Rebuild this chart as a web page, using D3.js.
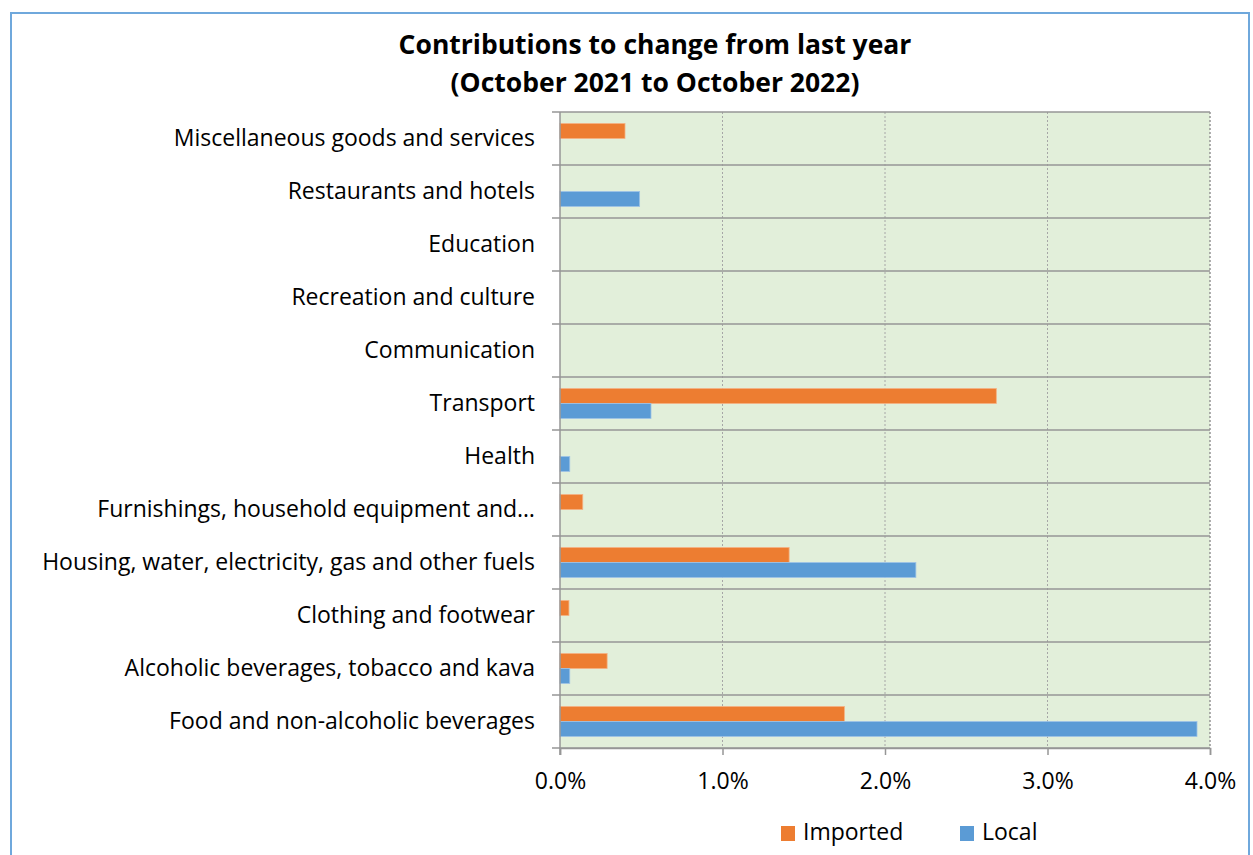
<!DOCTYPE html>
<html>
<head>
<meta charset="utf-8">
<script src="https://cdn.jsdelivr.net/npm/d3@7"></script>
<style>
  body { margin: 0; background: #fff; }
  svg { display: block; font-family: "Open Sans", Lato, sans-serif; }
</style>
</head>
<body>
<div id="chart"></div>
<script>
// categories from bottom to top, as in the picture
var categories = [
  "Food and non-alcoholic beverages",
  "Alcoholic beverages, tobacco and kava",
  "Clothing and footwear",
  "Housing, water, electricity, gas and other fuels",
  "Furnishings, household equipment and\u2026",
  "Health",
  "Transport",
  "Communication",
  "Recreation and culture",
  "Education",
  "Restaurants and hotels",
  "Miscellaneous goods and services"
];
var imported = [1.75, 0.29, 0.055, 1.41, 0.14, 0, 2.685, 0, 0, 0, 0, 0.40];
var local    = [3.92, 0.06, 0, 2.19, 0, 0.06, 0.56, 0, 0, 0, 0.49, 0];
var xTicks = [0, 1, 2, 3, 4];
var seriesNames = ["Imported", "Local"];
var colors = ["#ED7D31", "#5B9BD5"];

var W = 1253, H = 855;
var plot = { left: 560, top: 112, right: 1210, bottom: 748 };

var svg = d3.select("#chart").append("svg")
  .attr("width", W).attr("height", H);

// outer frame
svg.append("rect")
  .attr("x", 11).attr("y", 13).attr("width", 1238).attr("height", 860)
  .attr("fill", "none").attr("stroke", "#6FA8DC").attr("stroke-width", 2);

svg.append("rect")
  .attr("x", plot.left).attr("y", plot.top)
  .attr("width", plot.right - plot.left).attr("height", plot.bottom - plot.top)
  .attr("fill", "#E2EFDA");

var x = d3.scaleLinear().domain([0, 4]).range([plot.left, plot.right]);

// reversed so the first category sits at the bottom
var y = d3.scaleBand().domain(categories.slice().reverse())
  .range([plot.top, plot.bottom]).paddingInner(0).paddingOuter(0);

var inner = d3.scaleBand().domain(seriesNames)
  .range([0, y.bandwidth()]).paddingInner(0).paddingOuter(0.77);

// vertical dotted gridlines
svg.append("g").selectAll("line")
  .data(xTicks.slice(1))
  .enter().append("line")
    .attr("x1", function(d){ return x(d); })
    .attr("x2", function(d){ return x(d); })
    .attr("y1", plot.top).attr("y2", plot.bottom)
    .attr("stroke", "#A6A6A6").attr("stroke-width", 1)
    .attr("stroke-dasharray", "2,2");

// horizontal band boundaries + category ticks
var bounds = d3.range(categories.length + 1).map(function(i){
  return plot.top + i * y.bandwidth();
});
svg.append("g").selectAll("line")
  .data(bounds)
  .enter().append("line")
    .attr("x1", plot.left - 8).attr("x2", plot.right)
    .attr("y1", function(d){ return d; })
    .attr("y2", function(d){ return d; })
    .attr("stroke", "#969696").attr("stroke-width", 1.5);

// bars
var rows = categories.map(function(c, i){
  return { name: c, values: [imported[i], local[i]] };
});

var groups = svg.append("g").selectAll("g")
  .data(rows)
  .enter().append("g")
    .attr("transform", function(d){ return "translate(0," + y(d.name) + ")"; });

groups.selectAll("rect")
  .data(function(d){ return d.values.map(function(v, j){ return { s: seriesNames[j], v: v, j: j }; }); })
  .enter().append("rect")
    .filter(function(d){ return d.v > 0; })
    .attr("x", x(0))
    .attr("y", function(d){ return inner(d.s); })
    .attr("width", function(d){ return x(d.v) - x(0); })
    .attr("height", inner.bandwidth())
    .attr("fill", function(d){ return colors[d.j]; })
    .attr("stroke", function(d){ return d.j === 0 ? "#F4B183" : "#9DC3E6"; })
    .attr("stroke-width", 0.8);

// vertical axis line
svg.append("line")
  .attr("x1", plot.left).attr("x2", plot.left)
  .attr("y1", plot.top).attr("y2", plot.bottom + 7)
  .attr("stroke", "#969696").attr("stroke-width", 1.5);

// right dotted border
svg.append("line")
  .attr("x1", plot.right).attr("x2", plot.right)
  .attr("y1", plot.top).attr("y2", plot.bottom)
  .attr("stroke", "#969696").attr("stroke-width", 1.2)
  .attr("stroke-dasharray", "2,2");

// x axis
var xAxis = d3.axisBottom(x).tickValues(xTicks)
  .tickFormat(function(d){ return d.toFixed(1) + "%"; })
  .tickSize(7).tickPadding(18);

var ax = svg.append("g")
  .attr("transform", "translate(0," + plot.bottom + ")")
  .call(xAxis);
ax.select(".domain").attr("stroke", "#969696").attr("stroke-width", 1.5);
ax.selectAll(".tick line").attr("stroke", "#969696").attr("stroke-width", 1.5);
ax.selectAll(".tick text")
  .attr("font-size", 23).attr("fill", "#000")
  .style("font-family", "'Open Sans', Lato, sans-serif");

// category labels
svg.append("g").selectAll("text")
  .data(categories)
  .enter().append("text")
    .attr("x", 535)
    .attr("y", function(d){ return y(d) + y.bandwidth() / 2 + 1; })
    .attr("text-anchor", "end")
    .attr("dominant-baseline", "middle")
    .attr("font-size", 23)
    .attr("fill", "#000")
    .text(function(d){ return d; });

// title
var title = svg.append("text")
  .attr("x", 655).attr("text-anchor", "middle")
  .attr("font-size", 26.5).attr("font-weight", "bold");
title.append("tspan").attr("x", 655).attr("y", 54)
  .text("Contributions to change from last year");
title.append("tspan").attr("x", 655).attr("y", 92)
  .text("(October 2021 to October 2022)");

// legend
var legendX = [781, 960];
var legend = svg.append("g").selectAll("g")
  .data(seriesNames)
  .enter().append("g")
    .attr("transform", function(d, i){ return "translate(" + legendX[i] + ",826)"; });
legend.append("rect")
  .attr("width", 14).attr("height", 15)
  .attr("fill", function(d, i){ return colors[i]; });
legend.append("text")
  .attr("x", 22).attr("y", 8)
  .attr("dominant-baseline", "middle")
  .attr("font-size", 23)
  .text(function(d){ return d; });
</script>
</body>
</html>
